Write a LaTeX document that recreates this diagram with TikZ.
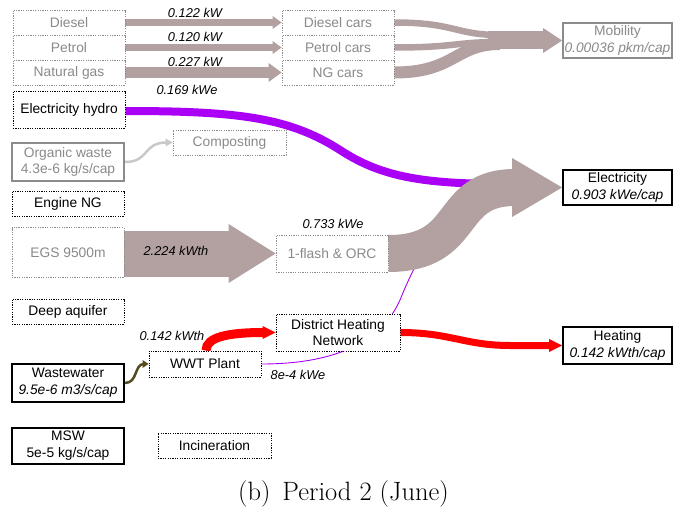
\documentclass[tikz,border=0pt]{standalone}
\usepackage{fontspec}
\newfontfamily\arialfont{Liberation Sans}
\usetikzlibrary{calc}
\pgfdeclarelayer{flows}
\pgfsetlayers{flows,main}

\definecolor{flowgray}{RGB}{179,161,161}
\definecolor{elecpurple}{RGB}{170,0,245}
\definecolor{heatred}{RGB}{255,0,0}
\definecolor{sewage}{RGB}{85,75,30}
\definecolor{compostgray}{RGB}{200,200,200}
\definecolor{txtgray}{RGB}{138,138,138}
\definecolor{edgegray}{RGB}{140,140,140}

% arrow head of a flow band: colour, tip, length, half width
\newcommand\flowhead[4]{\fill[#1] (#2) -- ++(-#3,-#4) -- ++(0,2*#4) -- cycle;}

\tikzset{
  base/.style={fill=white, inner sep=0pt, align=center,
    font=\arialfont\fontsize{13.8}{16.8}\selectfont, minimum width=112pt},
  dotbox/.style={base, draw=black, line width=0.8pt, dash pattern=on 1.2pt off 1.2pt},
  dotgray/.style={dotbox, draw=edgegray, text=txtgray},
  solidbox/.style={base, draw=black, line width=1.8pt},
  solidgray/.style={base, draw=edgegray, line width=1.8pt, text=txtgray},
  lbl/.style={font=\arialfont\itshape\fontsize{12.8}{15}\selectfont, inner sep=0pt},
}

\begin{document}
\begin{tikzpicture}[x=1pt,y=-1pt]
\useasboundingbox (0,0) rectangle (673,511);

% resources
\node[dotgray, minimum height=25pt] (diesel) at (69,22.5) {Diesel};
\node[dotgray, minimum height=25pt] (petrol) at (69,47.5) {Petrol};
\node[dotgray, minimum height=25pt] (natgas) at (69,72.5) {Natural gas};
\node[dotbox, minimum height=37pt] (hydro) at (69,109.5) {Electricity hydro};
\node[solidgray, minimum height=38pt] (organic) at (68,162) {Organic waste\\4.3e-6 kg/s/cap};
\node[dotbox, minimum height=25pt] (engine) at (68,203.5) {Engine NG};
\node[dotgray, minimum height=50pt] (egs) at (68,252.5) {EGS 9500m};
\node[dotbox, minimum height=25pt] (aquifer) at (68,311.5) {Deep aquifer};
\node[solidbox, minimum height=38pt] (wastewater) at (68,383) {Wastewater\\\textit{9.5e-6 m3/s/cap}};
\node[solidbox, minimum height=36pt] (msw) at (68,446) {MSW\\5e-5 kg/s/cap};

% conversion technologies
\node[dotgray, minimum height=25pt] (dcars) at (338,22.5) {Diesel cars};
\node[dotgray, minimum height=25pt] (pcars) at (338,47.5) {Petrol cars};
\node[dotgray, minimum height=25pt] (ngcars) at (338,72.5) {NG cars};
\node[dotgray, minimum width=113pt, minimum height=25pt] (compost) at (229.5,142.5) {Composting};
\node[dotgray, minimum height=37pt] (flash) at (332,253.5) {1-flash \& ORC};
\node[dotbox, minimum width=124pt, minimum height=37pt] (dhn) at (338,332.5) {District Heating\\Network};
\node[dotbox, minimum height=26pt] (wwt) at (205,364) {WWT Plant};
\node[dotbox, minimum width=113pt, minimum height=25pt] (incin) at (214.5,445.5) {Incineration};

% demands
\node[solidgray, minimum width=109pt, minimum height=35pt] (mobility) at (617.5,40.5) {Mobility\\\textit{0.00036 pkm/cap}};
\node[solidbox, minimum width=109pt, minimum height=35pt] (elec) at (617.5,187.5) {Electricity\\\textit{0.903 kWe/cap}};
\node[solidbox, minimum width=109pt, minimum height=37pt] (heating) at (617.5,345.5) {Heating\\\textit{0.142 kWth/cap}};

% flow labels
\node[lbl] (l1) at (195,13) {0.122 kW};
\node[lbl] (l2) at (195,37) {0.120 kW};
\node[lbl] (l3) at (195,62) {0.227 kW};
\node[lbl] (l4) at (187,90) {0.169 kWe};
\node[lbl] (l5) at (176,251) {2.224 kWth};
\node[lbl] (l6) at (333,224) {0.733 kWe};
\node[lbl] (l7) at (172,336) {0.142 kWth};
\node[lbl] (l8) at (298,375) {8e-4 kWe};

\node[font=\fontsize{26.5}{30}\selectfont, inner sep=0pt] (caption) at (343.5,494) {(b)\hspace{0.45em}Period 2 (June)};

\begin{pgfonlayer}{flows}
  % fuels to cars
  \draw[flowgray, line width=6.5pt] (diesel.east) -- ([xshift=-8pt]dcars.west);
  \flowhead{flowgray}{dcars.west}{9}{6.5}
  \draw[flowgray, line width=6.5pt] (petrol.east) -- ([xshift=-8pt]pcars.west);
  \flowhead{flowgray}{pcars.west}{9}{6.5}
  \draw[flowgray, line width=11pt] (natgas.east) -- ([xshift=-12pt]ngcars.west);
  \flowhead{flowgray}{ngcars.west}{13}{9.5}

  % cars to mobility
  \coordinate (mobjoin) at (488,40.5);
  \draw[flowgray, line width=6.5pt] (dcars.east) .. controls (455,22.5) and (455,35) .. (500,35);
  \draw[flowgray, line width=6.5pt] (pcars.east) .. controls (455,47.5) and (455,42) .. (500,42);
  \draw[flowgray, line width=12pt] (ngcars.east) .. controls (455,72.5) and (455,44) .. (500,44);
  \draw[flowgray, line width=18pt] (mobjoin) -- ([xshift=-18pt]mobility.west);
  \flowhead{flowgray}{mobility.west}{19}{12.5}

  % organic waste and wastewater
  \draw[compostgray, line width=2.5pt] (organic.east) .. controls (150,162) and (142,142.5) .. (167,142.5);
  \flowhead{compostgray}{compost.west}{7}{4}
  \draw[sewage, line width=2.5pt] (wastewater.east) .. controls (138,383) and (134,364) .. (144,364);
  \flowhead{sewage}{wwt.west}{6}{4}

  % geothermal heat
  \draw[flowgray, line width=46pt] (egs.east |- flash.west) -- ([xshift=-46pt]flash.west);
  \flowhead{flowgray}{flash.west}{47}{29.5}

  % electricity
  \draw[elecpurple, line width=8pt] ([yshift=-1.5pt]hydro.east) .. controls (240,111) and (290,118) .. (340,150)
       .. controls (380,176) and (420,184) .. (505,184);
  \draw[elecpurple, line width=0.9pt] (wwt.east) .. controls (330,364) and (380,345) .. (400,300)
       .. controls (420,250) and (450,200) .. (505,183);
  \draw[flowgray, line width=37pt] (flash.east) .. controls (470,253.5) and (445,187.5) .. (515,187.5);
  \flowhead{flowgray}{elec.west}{50}{29.5}

  % heat
  \draw[heatred, line width=9pt] ([xshift=1pt]wwt.north) .. controls (206,337) and (228,332.5) .. (264,332.5);
  \flowhead{heatred}{dhn.west}{13}{6.5}
  \draw[heatred, line width=7pt] (dhn.east) .. controls (450,332.5) and (465,345.5) .. (510,345.5)
       -- ([xshift=-12pt]heating.west);
  \flowhead{heatred}{heating.west}{13}{6.5}
\end{pgfonlayer}
\end{tikzpicture}
\end{document}
